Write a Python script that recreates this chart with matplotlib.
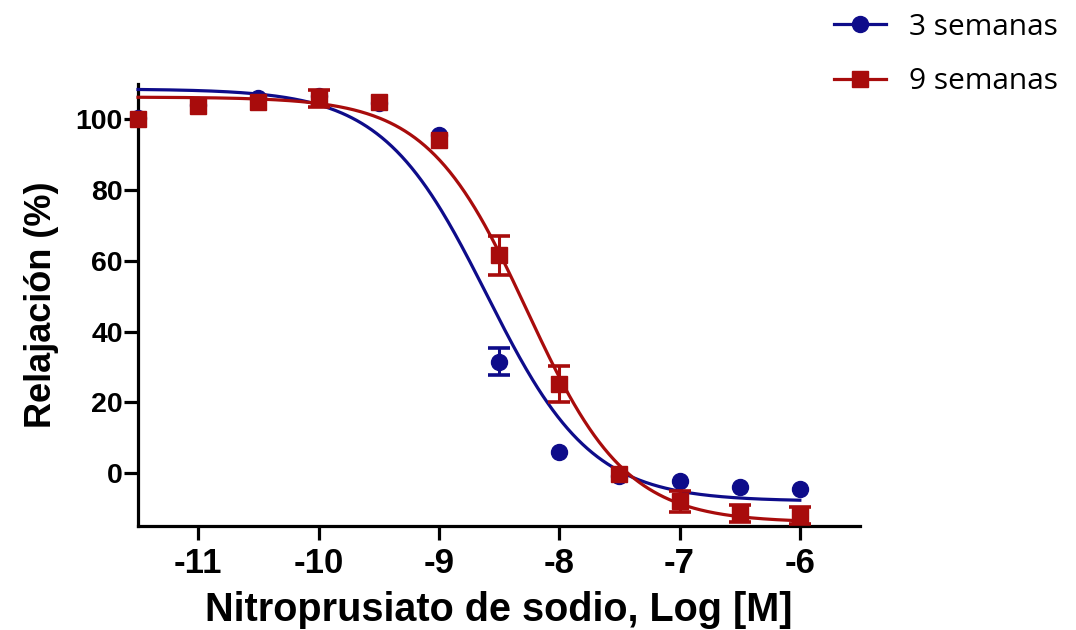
import numpy as np
import matplotlib
matplotlib.use("Agg")
import matplotlib.pyplot as plt

# Log molar concentration of sodium nitroprusside
log_conc = [-11.5, -11.0, -10.5, -10.0, -9.5, -9.0, -8.5, -8.0, -7.5, -7.0, -6.5, -6.0]

# Relaxation (%) mean and SEM per group
wk3_mean = [100.5, 104.0, 106.0, 106.5, 104.5, 95.5, 31.4, 6.0, -1.0, -2.3, -4.0, -4.5]
wk3_sem = [0.8, 0.8, 0.9, 1.0, 0.8, 1.2, 3.8, 1.0, 1.0, 1.2, 1.0, 1.0]
wk9_mean = [100.0, 103.7, 105.0, 106.0, 105.0, 94.3, 61.5, 25.2, -0.3, -8.0, -11.4, -12.0]
wk9_sem = [0.5, 1.0, 1.2, 2.4, 1.5, 1.5, 5.5, 5.0, 1.0, 3.0, 2.4, 2.5]

# Four-parameter logistic fits: top, bottom, logEC50, Hill slope
wk3_fit = (108.6, -8.0, -8.60, 1.00)
wk9_fit = (106.3, -14.0, -8.27, 1.05)

series_labels = ["3 semanas", "9 semanas"]
x_ticks = [-11, -10, -9, -8, -7, -6]
y_ticks = [0, 20, 40, 60, 80, 100]

BLUE = "#0e0c8a"
RED = "#a80c0c"
BOLD_FONT = "Liberation Sans"


def logistic(x, top, bottom, ec50, hill):
    return bottom + (top - bottom) / (1.0 + 10.0 ** ((x - ec50) * hill))


fig = plt.figure(figsize=(10.76, 6.30), dpi=100)
ax = fig.add_axes([138 / 1076, 1 - 526 / 630, (860 - 138) / 1076, (526 - 84) / 630])

xs = np.linspace(min(log_conc), max(log_conc), 400)
# error bars shorter than the symbol stay hidden behind it
min_visible_sem = 2.2

handles = []
for mean, sem, fit, color, marker, ms, z in [
    (wk3_mean, wk3_sem, wk3_fit, BLUE, "o", 11.5, 3),
    (wk9_mean, wk9_sem, wk9_fit, RED, "s", 11.5, 5),
]:
    ax.plot(xs, logistic(xs, *fit), color=color, lw=2.3, zorder=z, clip_on=False)
    shown = [i for i, s in enumerate(sem) if s >= min_visible_sem]
    ax.errorbar([log_conc[i] for i in shown], [mean[i] for i in shown],
                yerr=[sem[i] for i in shown], fmt="none", ecolor=color, elinewidth=2.2,
                capsize=8, capthick=2.6, zorder=z + 1, clip_on=False)
    ax.plot(log_conc, mean, ls="none", marker=marker, ms=ms, color=color,
            zorder=z + 1, clip_on=False)
    h, = ax.plot([], [], color=color, lw=2.3, marker=marker, ms=ms)
    handles.append(h)

ax.set_xlim(-11.5, -5.5)
ax.set_ylim(-15, 110)
ax.set_xticks(x_ticks)
ax.set_yticks(y_ticks)
ax.set_xticklabels([str(t) for t in x_ticks], family=BOLD_FONT, fontweight="bold", fontsize=25)
ax.set_yticklabels([str(t) for t in y_ticks], family=BOLD_FONT, fontweight="bold", fontsize=20.5)

for side in ("top", "right"):
    ax.spines[side].set_visible(False)
for side in ("left", "bottom"):
    ax.spines[side].set_linewidth(2.3)
    ax.spines[side].set_color("black")

ax.tick_params(axis="x", direction="out", length=10, width=2.3, pad=5)
ax.tick_params(axis="y", direction="out", length=10, width=2.3, pad=1)

ax.set_xlabel("Nitroprusiato de sodio, Log [M]", family=BOLD_FONT, fontweight="bold",
              fontsize=28.5, labelpad=8)
ax.set_ylabel("Relajación (%)", family=BOLD_FONT, fontweight="bold",
              fontsize=26, labelpad=12)

fig.legend(handles, series_labels, loc="upper left", bbox_to_anchor=(822 / 1076, 1 - 1 / 630),
           frameon=False, prop={"family": "Open Sans", "size": 21.5}, handlelength=1.75,
           handletextpad=0.75, labelspacing=0.85, borderaxespad=0)

fig.savefig("out.png", dpi=100)
